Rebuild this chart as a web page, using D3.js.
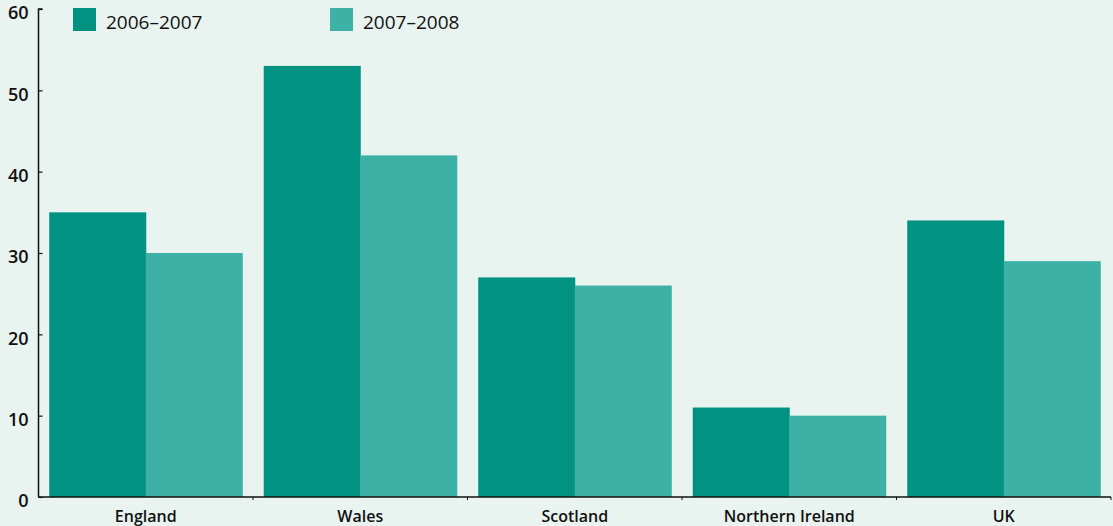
<!DOCTYPE html>
<html><head><meta charset="utf-8">
<script src="https://cdn.jsdelivr.net/npm/d3@7"></script>
<style>
html,body{margin:0;padding:0;background:#e9f3ef;}
svg{display:block;}
text{font-family:"Open Sans","Noto Sans",sans-serif;fill:#111;}
</style></head>
<body>
<script>
const categories = ["England","Wales","Scotland","Northern Ireland","UK"];
const seriesNames = ["2006–2007","2007–2008"];
const values2006 = [35,53,27,11,34];
const values2007 = [30,42,26,10,29];
const yTicks = [0,10,20,30,40,50,60];
const colors = ["#019282","#3db1a6"];

(function(){
const W=1113,H=526;
const svg=d3.select("body").append("svg").attr("width",W).attr("height",H);
svg.append("rect").attr("width",W).attr("height",H).attr("fill","#e9f3ef");

const mLeft=38.5,mRight=1111,mTop=9,mBottom=497;
const x=d3.scaleBand().domain(categories).range([mLeft,mRight]).paddingInner(0.1).paddingOuter(0.05);
const x1=d3.scaleBand().domain([0,1]).range([0,x.bandwidth()]);
const y=d3.scaleLinear().domain([0,60]).range([mBottom,mTop]);

const series=[values2006,values2007];
const g=svg.append("g");
categories.forEach((c,i)=>{
  series.forEach((s,j)=>{
    g.append("rect").attr("x",x(c)+x1(j)).attr("width",x1.bandwidth()+0.5)
     .attr("y",y(s[i])).attr("height",y(0)-y(s[i])).attr("fill",colors[j]);
  });
});

// y axis
const ya=svg.append("g").attr("transform",`translate(${mLeft},0)`)
  .call(d3.axisRight(y).tickValues(yTicks).tickSize(4).tickFormat(d3.format("d")));
ya.select(".domain").attr("stroke","#111").attr("stroke-width",1.5).attr("d",`M4,${mTop}H0V${mBottom}`);
ya.selectAll(".tick line").attr("stroke","#111").attr("stroke-width",1.2);
ya.selectAll(".tick text").attr("x",-10).attr("y",3.5).attr("text-anchor","end").attr("dy","0.35em")
  .style("font-size","18px").style("font-weight","600");

// x axis
const xa=svg.append("g").attr("transform",`translate(0,${mBottom})`);
xa.append("line").attr("x1",mLeft).attr("x2",mRight).attr("y1",0).attr("y2",0).attr("stroke","#111").attr("stroke-width",1.5);
categories.forEach((c,i)=>{
  const bx=x(c)+x.bandwidth()+x.step()*x.paddingInner()/2;
  xa.append("line").attr("x1",bx).attr("x2",bx).attr("y1",0).attr("y2",3).attr("stroke","#111").attr("stroke-width",1);
  xa.append("text").attr("x",x(c)+x.bandwidth()/2).attr("y",25).attr("text-anchor","middle")
    .style("font-size","16px").style("font-weight","600").text(c);
});

// legend
const lg=svg.append("g");
const lx=[73,330];
seriesNames.forEach((n,j)=>{
  lg.append("rect").attr("x",lx[j]).attr("y",8).attr("width",23).attr("height",23).attr("fill",colors[j]);
  lg.append("text").attr("x",lx[j]+33).attr("y",29).style("font-size","19px").text(n);
});
})();
</script>
</body></html>
